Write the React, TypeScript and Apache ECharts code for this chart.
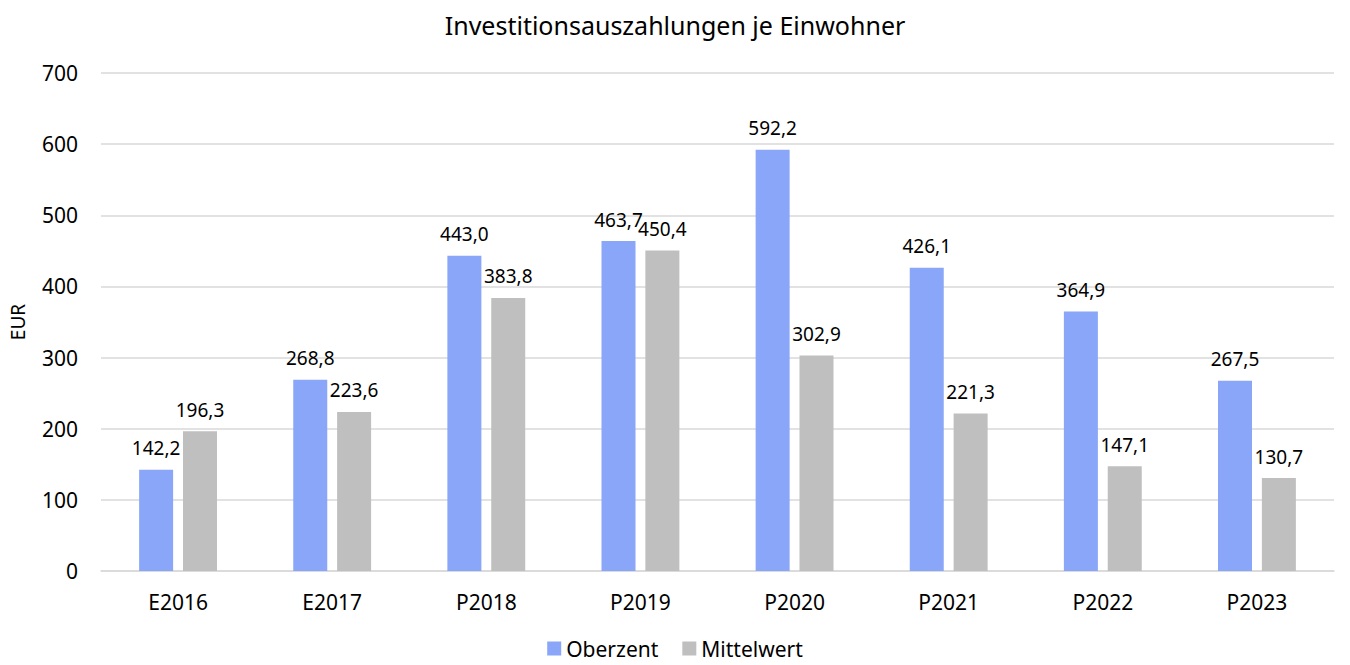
import React, { useEffect, useRef } from "react";
import * as echarts from "echarts";

const categories = ["E2016", "E2017", "P2018", "P2019", "P2020", "P2021", "P2022", "P2023"];
const oberzent = [142.2, 268.8, 443.0, 463.7, 592.2, 426.1, 364.9, 267.5];
const mittelwert = [196.3, 223.6, 383.8, 450.4, 302.9, 221.3, 147.1, 130.7];
const yTicks = { min: 0, max: 700, interval: 100 };
const titleText = "Investitionsauszahlungen je Einwohner";
const yName = "EUR";
const seriesNames = ["Oberzent", "Mittelwert"];

const FONT = "'Noto Sans', sans-serif";

export default function App() {
  const ref = useRef<HTMLDivElement>(null);
  useEffect(() => {
    document.body.style.margin = "0";
    if (!ref.current) return;
    const chart = echarts.init(ref.current, null, { renderer: "svg" });
    const fmt = (p: any) => Number(p.value).toFixed(1).replace(".", ",");
    const labelCfg = {
      show: true,
      position: "top",
      distance: 12,
      formatter: fmt,
      color: "#000",
      fontSize: 19,
      fontFamily: FONT,
    };
    chart.setOption({
      animation: false,
      textStyle: { fontFamily: FONT },
      title: {
        text: titleText,
        left: "center",
        top: 7,
        textStyle: { fontSize: 25, fontWeight: "normal", color: "#000", fontFamily: FONT },
      },
      grid: { left: 99, right: 16, top: 73, bottom: 94, containLabel: false },
      legend: {
        top: 638,
        left: "center",
        padding: [0, 5, 0, 5],
        icon: "rect",
        itemWidth: 14,
        itemHeight: 14,
        itemGap: 24,
        textStyle: { fontSize: 21, color: "#000", fontFamily: FONT },
        data: seriesNames,
      },
      xAxis: {
        type: "category",
        data: categories,
        axisTick: { show: false },
        axisLine: { lineStyle: { color: "#d9d9d9", width: 1.5 } },
        axisLabel: { fontSize: 21, color: "#000", margin: 20, fontFamily: FONT },
      },
      yAxis: {
        type: "value",
        min: yTicks.min,
        max: yTicks.max,
        interval: yTicks.interval,
        name: yName,
        nameLocation: "middle",
        nameRotate: 90,
        nameGap: 74,
        nameTextStyle: { fontSize: 19, color: "#000", fontFamily: FONT },
        axisLine: { show: false },
        axisTick: { show: false },
        axisLabel: { fontSize: 21, color: "#000", margin: 23, fontFamily: FONT },
        splitLine: { lineStyle: { color: "#d9d9d9", width: 1.5 } },
      },
      series: [
        {
          name: seriesNames[0],
          type: "bar",
          data: oberzent,
          barWidth: 34,
          barGap: "29%",
          itemStyle: { color: "#8aa6f8" },
          label: labelCfg,
        },
        {
          name: seriesNames[1],
          type: "bar",
          data: mittelwert,
          barWidth: 34,
          barGap: "29%",
          itemStyle: { color: "#bfbfbf" },
          label: labelCfg,
        },
      ],
    });
    return () => chart.dispose();
  }, []);
  return <div ref={ref} style={{ width: 1350, height: 665 }} />;
}
